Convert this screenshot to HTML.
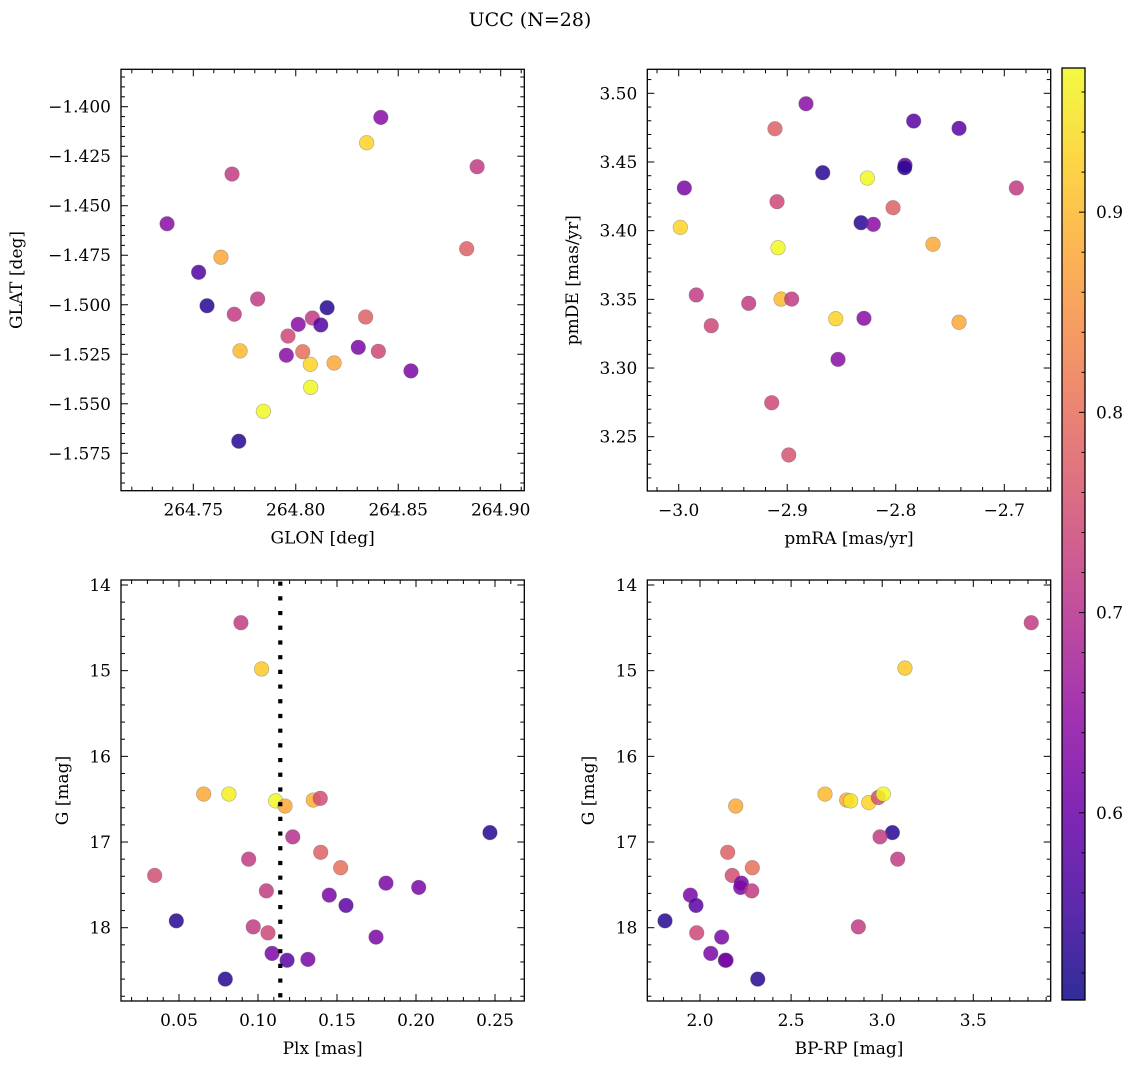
<!DOCTYPE html>
<html><head><meta charset="utf-8">
<style>
html,body{margin:0;padding:0;background:#fff;}
svg{display:block;font-family:"DejaVu Serif","Liberation Serif",serif;}
</style></head>
<body>
<svg id="fig" width="1136" height="1068" viewBox="0 0 1136 1068" xmlns="http://www.w3.org/2000/svg">
<text x="530" y="26" text-anchor="middle" font-size="19">UCC (N=28)</text>
</svg>
<script>
// ---- Panel 1: GLON vs GLAT ----
const p1Glon=[264.8415,264.8346,264.8885,264.7689,264.7372,264.7635,264.8834,264.7526,264.7567,264.7814,264.7700,264.8153,264.8081,264.8012,264.8122,264.7962,264.8341,264.7728,264.8034,264.8305,264.8403,264.7954,264.8071,264.8187,264.8562,264.8073,264.7842,264.7722];
const p1Glat=[-1.4054,-1.4182,-1.4303,-1.4340,-1.4591,-1.4760,-1.4717,-1.4836,-1.5005,-1.4971,-1.5048,-1.5015,-1.5067,-1.5099,-1.5102,-1.5158,-1.5062,-1.5233,-1.5237,-1.5215,-1.5235,-1.5255,-1.5301,-1.5294,-1.5334,-1.5417,-1.5538,-1.5689];
const p1Prob=[0.64,0.93,0.72,0.72,0.64,0.88,0.78,0.57,0.53,0.72,0.72,0.53,0.72,0.64,0.57,0.74,0.78,0.90,0.80,0.62,0.74,0.64,0.93,0.88,0.62,0.97,0.97,0.53];
const p1XTicks=[264.75,264.80,264.85,264.90];
const p1XTickLabels=["264.75","264.80","264.85","264.90"];
const p1YTicks=[-1.400,-1.425,-1.450,-1.475,-1.500,-1.525,-1.550,-1.575];
const p1YTickLabels=["\u22121.400","\u22121.425","\u22121.450","\u22121.475","\u22121.500","\u22121.525","\u22121.550","\u22121.575"];

// ---- Panel 2: pmRA vs pmDE ----
const p2PmRA=[-2.8827,-2.7835,-2.9113,-2.7417,-2.7915,-2.7918,-2.9948,-2.8673,-2.8262,-2.6889,-2.9094,-2.8025,-2.8320,-2.8207,-2.9985,-2.7657,-2.9085,-2.9838,-2.9057,-2.8959,-2.9355,-2.9700,-2.8553,-2.8293,-2.7417,-2.8532,-2.9143,-2.8986];
const p2PmDE=[3.4924,3.4798,3.4742,3.4745,3.4476,3.4458,3.4311,3.4422,3.4383,3.4311,3.4211,3.4167,3.4058,3.4046,3.4024,3.3901,3.3876,3.3532,3.3502,3.3502,3.3471,3.3308,3.3359,3.3362,3.3333,3.3063,3.2747,3.2367];
const p2Prob=[0.64,0.58,0.78,0.58,0.60,0.53,0.62,0.53,0.97,0.72,0.74,0.78,0.53,0.64,0.93,0.88,0.97,0.72,0.90,0.72,0.72,0.74,0.93,0.64,0.88,0.64,0.74,0.76];
const p2XTicks=[-3.0,-2.9,-2.8,-2.7];
const p2XTickLabels=["\u22123.0","\u22122.9","\u22122.8","\u22122.7"];
const p2YTicks=[3.50,3.45,3.40,3.35,3.30,3.25];
const p2YTickLabels=["3.50","3.45","3.40","3.35","3.30","3.25"];

// ---- Panel 3: Plx vs G ----
const p3Plx=[0.0892,0.1023,0.0656,0.0816,0.1112,0.1171,0.1350,0.1394,0.1220,0.1397,0.2468,0.1523,0.0941,0.0346,0.1810,0.2017,0.1451,0.1053,0.1557,0.0483,0.0970,0.1063,0.1747,0.1089,0.1184,0.1316,0.0793];
const p3G=[14.44,14.98,16.44,16.44,16.52,16.58,16.51,16.49,16.94,17.12,16.89,17.30,17.20,17.39,17.48,17.53,17.62,17.57,17.74,17.92,17.99,18.06,18.11,18.30,18.38,18.37,18.60];
const p3Prob=[0.72,0.92,0.88,0.96,0.97,0.88,0.89,0.75,0.70,0.78,0.53,0.80,0.72,0.75,0.62,0.62,0.62,0.72,0.58,0.53,0.72,0.74,0.62,0.62,0.58,0.62,0.53];
const p3PlxMedian=[0.1141];
const p3XTicks=[0.05,0.10,0.15,0.20,0.25];
const p3XTickLabels=["0.05","0.10","0.15","0.20","0.25"];
const gTicks=[14,15,16,17,18];
const gTickLabels=["14","15","16","17","18"];

// ---- Panel 4: BP-RP vs G ----
const p4BpRp=[3.818,3.125,2.196,2.686,2.805,2.827,2.926,2.979,3.006,3.056,2.988,3.085,2.152,2.287,2.177,2.227,2.223,2.284,1.947,1.978,1.808,2.869,1.982,2.119,2.059,2.139,2.143,2.317];
const p4G=[14.44,14.97,16.58,16.44,16.51,16.52,16.54,16.48,16.44,16.89,16.94,17.20,17.12,17.30,17.39,17.48,17.53,17.57,17.62,17.74,17.92,17.99,18.06,18.11,18.30,18.38,18.38,18.60];
const p4Prob=[0.72,0.92,0.88,0.90,0.88,0.95,0.93,0.75,0.97,0.53,0.72,0.72,0.78,0.80,0.75,0.62,0.62,0.72,0.62,0.58,0.53,0.72,0.74,0.62,0.62,0.58,0.62,0.53];
const p4XTicks=[2.0,2.5,3.0,3.5];
const p4XTickLabels=["2.0","2.5","3.0","3.5"];

// ---- Colorbar ----
const cbTicks=[0.6,0.7,0.8,0.9];
const cbTickLabels=["0.6","0.7","0.8","0.9"];
const cbRange=[0.5065,0.972];

const NS="http://www.w3.org/2000/svg";
const svg=document.getElementById('fig');
function mk(tag,attrs,parent){const e=document.createElementNS(NS,tag);for(const k in attrs)e.setAttribute(k,attrs[k]);(parent||svg).appendChild(e);return e;}

const plasma=[[13,8,135],[65,4,157],[106,0,168],[143,13,164],[177,42,144],[204,71,120],[225,100,98],[242,132,75],[252,166,54],[252,206,37],[240,249,33]];
function plasmaColor(t){t=Math.max(0,Math.min(1,t));const f=t*10;const i=Math.min(9,Math.floor(f));const r=f-i;const a=plasma[i],b=plasma[i+1];
return 'rgb('+Math.round(a[0]+(b[0]-a[0])*r)+','+Math.round(a[1]+(b[1]-a[1])*r)+','+Math.round(a[2]+(b[2]-a[2])*r)+')';}
function probColor(v){return plasmaColor((v-cbRange[0])/(cbRange[1]-cbRange[0]));}

function linScale(v0,p0,v1,p1){return v=>p0+(v-v0)*(p1-p0)/(v1-v0);}

function drawPanel(o){
  const g=mk('g',{});
  
  
  const L=o.box[0],T=o.box[1],R=o.box[2],B=o.box[3];
  const pts=mk('g',{},g);
  
  
  for(let i=0;i<o.xs.length;i++){
    const c=mk('circle',{cx:o.sx(o.xs[i]),cy:o.sy(o.ys[i]),r:7.3,fill:probColor(o.cs[i]),'fill-opacity':0.85,stroke:'#666','stroke-opacity':0.5,'stroke-width':0.6},pts);
    
    
  }
  if(o.extra)o.extra(g);
  const tk=mk('g',{stroke:'#000','stroke-width':1},g);
  
  
  const xmin=Math.min(o.xr[0],o.xr[1]),xmax=Math.max(o.xr[0],o.xr[1]);
  for(let k=Math.ceil(xmin/o.xminor-1e-6);k*o.xminor<=xmax+1e-9;k++){
    const v=k*o.xminor;const px=o.sx(v);if(px<L+0.5||px>R-0.5)continue;
    const major=o.xt.some(t=>Math.abs(t-v)<o.xminor/10);const len=major?7:4;
    mk('line',{x1:px,y1:B,x2:px,y2:B-len},tk);mk('line',{x1:px,y1:T,x2:px,y2:T+len},tk);
  }
  const ymin=Math.min(o.yr[0],o.yr[1]),ymax=Math.max(o.yr[0],o.yr[1]);
  for(let k=Math.ceil(ymin/o.yminor-1e-6);k*o.yminor<=ymax+1e-9;k++){
    const v=k*o.yminor;const py=o.sy(v);if(py<T+0.5||py>B-0.5)continue;
    const major=o.yt.some(t=>Math.abs(t-v)<o.yminor/10);const len=major?7:4;
    mk('line',{x1:L,y1:py,x2:L+len,y2:py},tk);mk('line',{x1:R,y1:py,x2:R-len,y2:py},tk);
  }
  const fr=mk('rect',{x:L,y:T,width:R-L,height:B-T,fill:'none',stroke:'#000','stroke-width':1.3},g);
  
  
  o.xt.forEach((t,i)=>{const e=mk('text',{x:o.sx(t),y:B+25,'text-anchor':'middle','font-size':17},g);e.textContent=o.xl[i];
    
    });
  o.yt.forEach((t,i)=>{const e=mk('text',{x:L-10,y:o.sy(t)+6,'text-anchor':'end','font-size':17},g);e.textContent=o.yl[i];
    
    });
  const xt=mk('text',{x:(L+R)/2,y:B+53,'text-anchor':'middle','font-size':17},g);xt.textContent=o.xtitle;
  
  
  const yt=mk('text',{x:0,y:0,'text-anchor':'middle','font-size':17,transform:'translate('+o.ytx+','+((T+B)/2)+') rotate(-90)'},g);yt.textContent=o.ytitle;
  
  
}

drawPanel({name:'glon-glat-panel',box:[121,69.3,524.3,490.7],
  sx:linScale(264.75,193.3,264.90,500.7),sy:linScale(-1.400,106.7,-1.575,453.3),
  xr:[264.7147,264.9115],yr:[-1.3811,-1.5939],xminor:0.01,yminor:0.005,
  xs:p1Glon,ys:p1Glat,cs:p1Prob,xt:p1XTicks,xl:p1XTickLabels,yt:p1YTicks,yl:p1YTickLabels,
  xtitle:'GLON [deg]',ytitle:'GLAT [deg]',ytx:22});
drawPanel({name:'pm-panel',box:[647.3,69.3,1050.7,491],
  sx:linScale(-3.0,678.7,-2.7,1004.3),sy:linScale(3.50,93.3,3.25,436.7),
  xr:[-3.0289,-2.6572],yr:[3.5175,3.2105],xminor:0.02,yminor:0.01,
  xs:p2PmRA,ys:p2PmDE,cs:p2Prob,xt:p2XTicks,xl:p2XTickLabels,yt:p2YTicks,yl:p2YTickLabels,
  xtitle:'pmRA [mas/yr]',ytitle:'pmDE [mas/yr]',ytx:578});
const p3sx=linScale(0.05,179,0.25,495);
const p3sy=linScale(14,585,18,927.7);
drawPanel({name:'plx-g-panel',box:[121,580,524.3,1001],
  sx:p3sx,sy:p3sy,
  xr:[0.0133,0.2685],yr:[13.94,18.85],xminor:0.01,yminor:0.2,
  xs:p3Plx,ys:p3G,cs:p3Prob,xt:p3XTicks,xl:p3XTickLabels,yt:gTicks,yl:gTickLabels,
  xtitle:'Plx [mas]',ytitle:'G [mag]',ytx:68,
  extra:function(g){
    const ln=mk('line',{x1:p3sx(p3PlxMedian[0]),y1:p3sy(13.96),x2:p3sx(p3PlxMedian[0]),y2:p3sy(18.85),stroke:'#000','stroke-width':4.2,'stroke-dasharray':'4.2 10.5'},g);
    
    
  }});
drawPanel({name:'cmd-panel',box:[647.3,580,1050.7,1001],
  sx:linScale(2.0,700,3.5,973.3),sy:linScale(14,585,18,927.7),
  xr:[1.73,3.95],yr:[13.94,18.85],xminor:0.1,yminor:0.2,
  xs:p4BpRp,ys:p4G,cs:p4Prob,xt:p4XTicks,xl:p4XTickLabels,yt:gTicks,yl:gTickLabels,
  xtitle:'BP-RP [mag]',ytitle:'G [mag]',ytx:594});

(function(){
  const L=1062,R=1085,T=68,B=1000;
  const g=mk('g',{});
  
  
  const defs=mk('defs',{},g);
  const lg=mk('linearGradient',{id:'cbgrad',x1:0,y1:1,x2:0,y2:0},defs);
  for(let i=0;i<=20;i++){mk('stop',{offset:(i/20),'stop-color':plasmaColor(i/20)},lg);}
  mk('rect',{x:L,y:T,width:R-L,height:B-T,fill:'url(#cbgrad)','fill-opacity':0.85},g);
  const cy=linScale(cbRange[0],B,cbRange[1],T);
  for(let k=Math.ceil(cbRange[0]/0.02);k*0.02<=cbRange[1];k++){
    const v=k*0.02;const major=cbTicks.some(t=>Math.abs(t-v)<0.002);const py=cy(v);
    mk('line',{x1:R,y1:py,x2:R-(major?6:3.5),y2:py,stroke:'#000','stroke-width':1},g);
  }
  cbTicks.forEach((t,i)=>{const e=mk('text',{x:R+11,y:cy(t)+6,'font-size':17},g);e.textContent=cbTickLabels[i];
    
    });
  mk('rect',{x:L,y:T,width:R-L,height:B-T,fill:'none',stroke:'#000','stroke-width':1.3},g);
})();
</script>
</body></html>
